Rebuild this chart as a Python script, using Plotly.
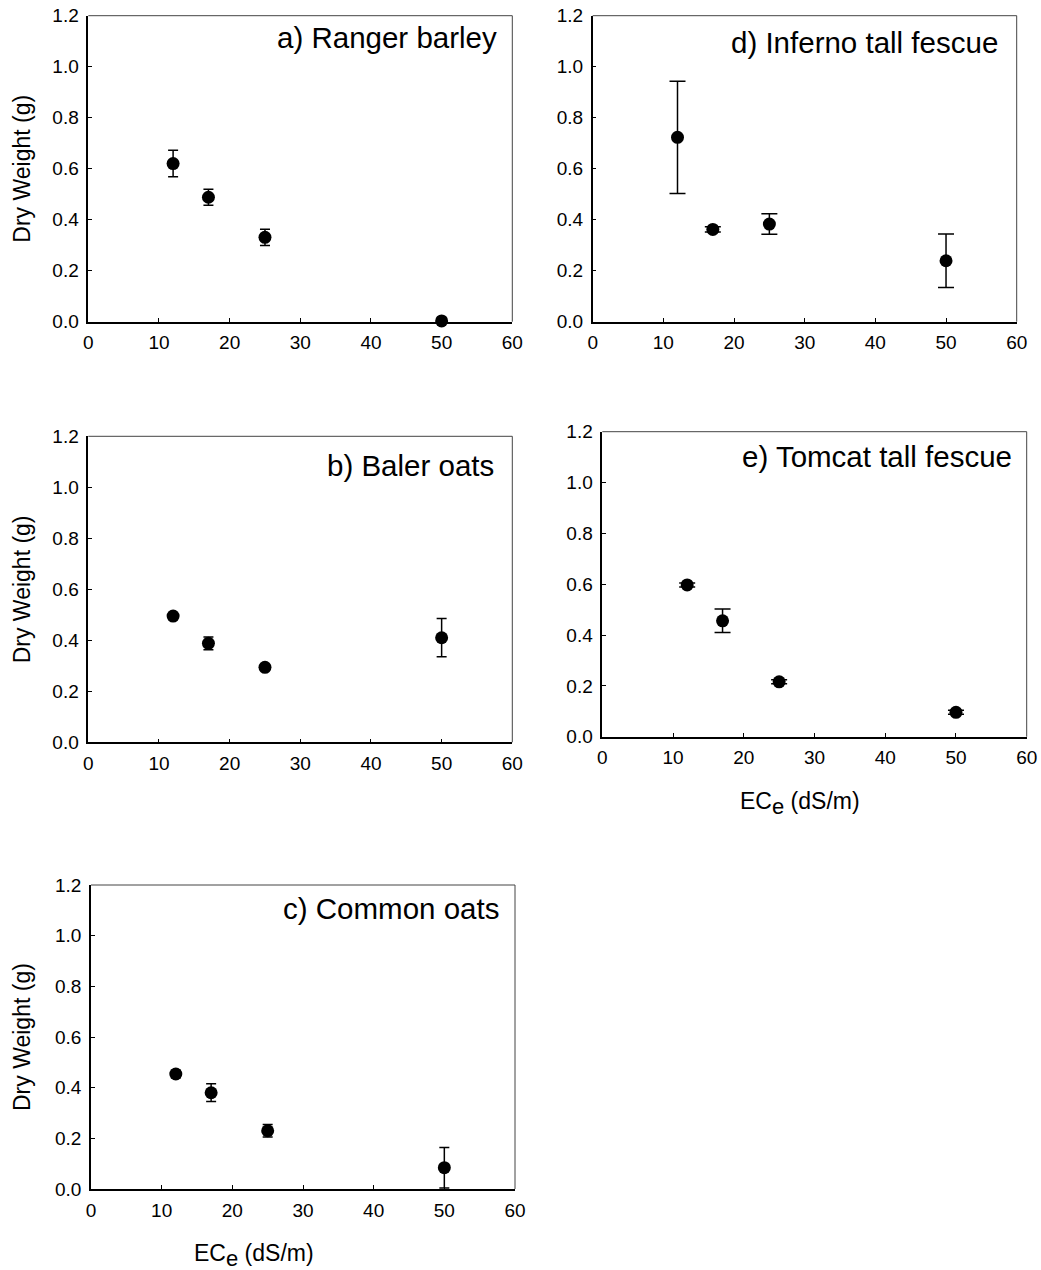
import plotly.graph_objects as go

# ---------------- data ----------------
ece = [12, 17, 25, 50]

titles = ["a) Ranger barley", "d) Inferno tall fescue", "b) Baler oats",
          "e) Tomcat tall fescue", "c) Common oats"]

dw_a = [0.620, 0.488, 0.331, 0.003]
err_a = [0.052, 0.031, 0.032, 0.0]

dw_d = [0.723, 0.362, 0.383, 0.239]
err_d = [0.220, 0.010, 0.040, 0.105]

dw_b = [0.495, 0.388, 0.294, 0.410]
err_b = [0.005, 0.025, 0.005, 0.075]

dw_e = [0.597, 0.456, 0.216, 0.096]
err_e = [0.008, 0.046, 0.008, 0.008]

dw_c = [0.454, 0.380, 0.230, 0.084]
err_c = [0.015, 0.035, 0.025, 0.080]

x_ticks = [0, 10, 20, 30, 40, 50, 60]
y_ticks = [0.0, 0.2, 0.4, 0.6, 0.8, 1.0, 1.2]

y_title = "Dry Weight (g)"
x_title = 'EC<sub><span style="font-size:22px">e</span></sub> (dS/m)'

# ---------------- layout helpers ----------------
W, H = 1041, 1270
FONT = "Liberation Sans, Arial, sans-serif"

# pixel boxes: (left, right, top, bottom)
boxes = [
    (88.3, 512.3, 15.7, 321.7),    # a
    (592.7, 1016.7, 15.7, 321.7),  # d
    (88.3, 512.3, 436.3, 742.3),   # b
    (602.3, 1026.7, 431.7, 736.7), # e
    (91.0, 515.0, 885.0, 1189.0),  # c
]
series = [(dw_a, err_a), (dw_d, err_d), (dw_b, err_b), (dw_e, err_e), (dw_c, err_c)]
cap_w = [5, 8, 5, 8, 5]
# title placement: px from right edge, px below top
title_pos = [(13, 22), (17, 27), (16, 29), (13, 25), (14, 23)]

fig = go.Figure()
layout = dict(
    template="none",
    width=W, height=H, autosize=False,
    margin=dict(l=0, r=0, t=0, b=0, pad=0),
    paper_bgcolor="white", plot_bgcolor="white",
    showlegend=False,
    font=dict(family=FONT, color="black"),
)
annotations = []
shapes = []

for i, ((ys, es), (l, r, t, b)) in enumerate(zip(series, boxes)):
    n = "" if i == 0 else str(i + 1)
    xa, ya = "x" + n, "y" + n
    fig.add_trace(go.Scatter(
        x=ece, y=ys, xaxis=xa, yaxis=ya, mode="markers",
        marker=dict(size=13, color="black", line=dict(width=0)),
        error_y=dict(type="data", array=es, visible=True, color="black",
                     thickness=1.5, width=cap_w[i]),
        cliponaxis=False, hoverinfo="skip",
    ))
    layout["xaxis" + n] = dict(
        domain=[l / W, r / W], anchor=ya, range=[0, 60], automargin=False,
        tickmode="array", tickvals=x_ticks, ticktext=[str(v) for v in x_ticks],
        ticks="inside", ticklen=4, tickwidth=1, tickcolor="black",
        showline=True, linecolor="black", linewidth=1.5,
        showgrid=False, zeroline=False,
        tickfont=dict(size=19, family=FONT, color="black"),
        ticklabelstandoff=3,
    )
    layout["yaxis" + n] = dict(
        domain=[1 - b / H, 1 - t / H], anchor=xa, range=[0, 1.2], automargin=False,
        tickmode="array", tickvals=y_ticks, ticktext=["%.1f" % v for v in y_ticks],
        ticks="inside", ticklen=4, tickwidth=1, tickcolor="black",
        showline=True, linecolor="black", linewidth=1.5,
        showgrid=False, zeroline=False,
        tickfont=dict(size=19, family=FONT, color="black"),
        ticklabelstandoff=4,
    )
    # top and right frame lines
    shapes.append(dict(type="line", xref=xa + " domain", yref=ya + " domain",
                       x0=0, x1=1, y0=1, y1=1, line=dict(color="#444", width=1)))
    shapes.append(dict(type="line", xref=xa + " domain", yref=ya + " domain",
                       x0=1, x1=1, y0=0, y1=1, line=dict(color="#444", width=1)))
    dx, dy = title_pos[i]
    annotations.append(dict(
        text=titles[i], xref="paper", yref="paper",
        x=(r - dx) / W, y=1 - (t + dy) / H, xanchor="right", yanchor="middle",
        showarrow=False, font=dict(size=29.5, family=FONT, color="black"),
    ))

# y-axis titles (left column)
for (l, r, t, b) in [boxes[0], boxes[2], boxes[4]]:
    annotations.append(dict(
        text=y_title, textangle=-90, xref="paper", yref="paper",
        x=22 / W, y=1 - ((t + b) / 2) / H, xanchor="center", yanchor="middle",
        showarrow=False, font=dict(size=23, family=FONT, color="black"),
    ))

# x-axis titles
for (cx, cy) in [(800, 803), (254, 1255)]:
    annotations.append(dict(
        text=x_title, xref="paper", yref="paper",
        x=cx / W, y=1 - cy / H, xanchor="center", yanchor="middle",
        showarrow=False, font=dict(size=23, family=FONT, color="black"),
    ))

layout["annotations"] = annotations
layout["shapes"] = shapes
fig.update_layout(**layout)
fig.write_html("out.html")
